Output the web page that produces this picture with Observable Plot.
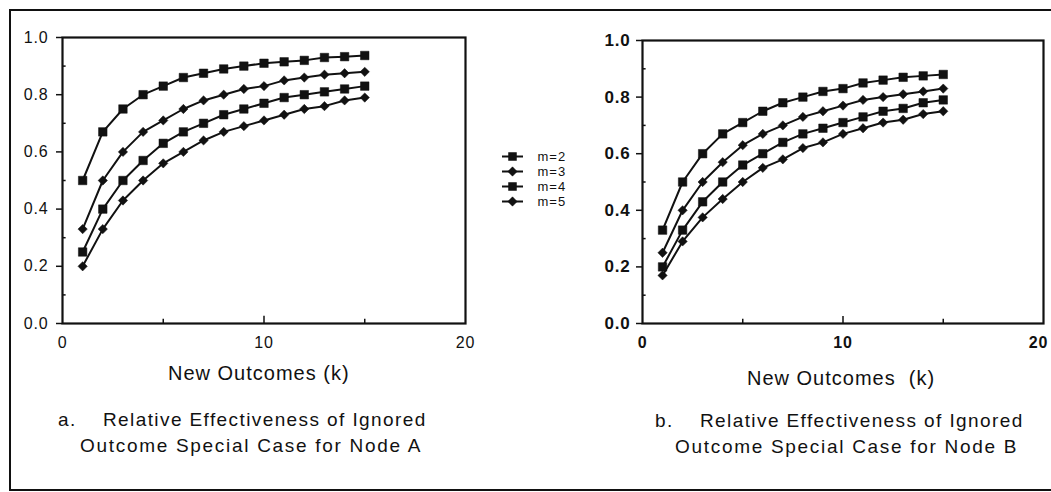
<!DOCTYPE html>
<html><head><meta charset="utf-8">
<script src="https://cdn.jsdelivr.net/npm/d3@7"></script>
<script src="https://cdn.jsdelivr.net/npm/@observablehq/plot@0.6"></script>
<style>
html,body{margin:0;padding:0;background:#fff}
body{width:1051px;height:492px;overflow:hidden;position:relative;font-family:"Liberation Sans",Arial,sans-serif;color:#111}
.abs{position:absolute}
.border{position:absolute;left:9px;top:9px;width:1200px;height:478px;border-left:2px solid #111;border-top:2px solid #111;border-bottom:2px solid #111}
.txt{position:absolute;white-space:pre;line-height:1;color:#111}
.axl{font-size:20px;letter-spacing:1px}
.cap{font-size:19px;letter-spacing:1.4px}
.cap2{letter-spacing:1.7px}
</style></head><body>
<div class="border"></div>
<div id="pa" class="abs" style="left:0;top:0"></div>
<div id="pb" class="abs" style="left:560px;top:0"></div>
<div id="lg" class="abs" style="left:490px;top:130px"></div>
<div class="txt axl" style="left:168px;top:363px">New Outcomes (k)</div>
<div class="txt axl" style="left:747px;top:368px">New Outcomes  (k)</div>
<div class="txt cap" style="left:58px;top:410px">a.</div>
<div class="txt cap" style="left:103px;top:410px">Relative Effectiveness of Ignored</div>
<div class="txt cap cap2" style="left:80px;top:436px">Outcome Special Case for Node A</div>
<div class="txt cap" style="left:655px;top:411px">b.</div>
<div class="txt cap" style="left:700px;top:411px">Relative Effectiveness of Ignored</div>
<div class="txt cap cap2" style="left:675px;top:437px">Outcome Special Case for Node B</div>
<script>
// Data
const series = ["m=2", "m=3", "m=4", "m=5"];
const kValues = [1, 2, 3, 4, 5, 6, 7, 8, 9, 10, 11, 12, 13, 14, 15];
const xTicks = [0, 10];
const xEndTicks = [20];
const yTicks = [0, 0.2, 0.4, 0.6, 0.8, 1.0];
const yMinorTicks = [0.1, 0.3, 0.5, 0.7, 0.9];
const xMinorTicks = [5, 10, 15];

// Panel a: Node A
const a_m2 = [0.50, 0.67, 0.75, 0.80, 0.83, 0.86, 0.875, 0.89, 0.90, 0.91, 0.915, 0.92, 0.93, 0.933, 0.937];
const a_m3 = [0.33, 0.50, 0.60, 0.67, 0.71, 0.75, 0.78, 0.80, 0.82, 0.83, 0.85, 0.86, 0.87, 0.875, 0.88];
const a_m4 = [0.25, 0.40, 0.50, 0.57, 0.63, 0.67, 0.70, 0.73, 0.75, 0.77, 0.79, 0.80, 0.81, 0.82, 0.83];
const a_m5 = [0.20, 0.33, 0.43, 0.50, 0.56, 0.60, 0.64, 0.67, 0.69, 0.71, 0.73, 0.75, 0.76, 0.78, 0.79];

// Panel b: Node B
const b_m2 = [0.33, 0.50, 0.60, 0.67, 0.71, 0.75, 0.78, 0.80, 0.82, 0.83, 0.85, 0.86, 0.87, 0.875, 0.88];
const b_m3 = [0.25, 0.40, 0.50, 0.57, 0.63, 0.67, 0.70, 0.73, 0.75, 0.77, 0.79, 0.80, 0.81, 0.82, 0.83];
const b_m4 = [0.20, 0.33, 0.43, 0.50, 0.56, 0.60, 0.64, 0.67, 0.69, 0.71, 0.73, 0.75, 0.76, 0.78, 0.79];
const b_m5 = [0.17, 0.29, 0.375, 0.44, 0.50, 0.55, 0.58, 0.62, 0.64, 0.67, 0.69, 0.71, 0.72, 0.74, 0.75];

const squareSeries = ["m=2", "m=4"];

function rowsFrom(arrs) {
  const out = [];
  arrs.forEach((arr, i) => arr.forEach((v, j) => out.push({k: kValues[j], v, m: series[i]})));
  return out;
}

const ink = "#111";
function panel(rows, o) {
  return Plot.plot({
    width: o.width, height: 390,
    marginLeft: o.ml, marginRight: o.mr, marginTop: o.mt, marginBottom: 67,
    x: {domain: [0, 20]},
    y: {domain: [0, 1]},
    style: {fontFamily: "Liberation Sans, Arial, sans-serif", fontSize: "16px", color: ink, background: "transparent", overflow: "visible", letterSpacing: "0.8px"},
    marks: [
      Plot.axisY({ticks: yTicks, tickSize: 6, tickPadding: o.ypad, tickFormat: d3.format(".1f"), label: null, fontSize: o.yfs, fontWeight: o.yfw, strokeWidth: 1.5}),
      Plot.ruleY(yMinorTicks, {y: d => d, x1: 0, x2: 0.18, stroke: ink, strokeWidth: 1.5}),
      Plot.axisX({ticks: xTicks, tickSize: 0, tickPadding: 13, label: null, fontSize: 16, fontWeight: o.yfw}),
      Plot.axisX({ticks: xEndTicks, tickSize: 0, tickPadding: 13, label: null, fontSize: 16, fontWeight: o.yfw, dx: o.endDx}),
      Plot.ruleX(xMinorTicks, {x: d => d, y1: 0, y2: d => d === 10 ? 0.025 : 0.015, stroke: ink, strokeWidth: 1.5}),
      Plot.frame({stroke: ink, strokeWidth: 2.2}),
      Plot.line(rows, {x: "k", y: "v", z: "m", stroke: ink, strokeWidth: 2}),
      Plot.dot(rows.filter(d => squareSeries.includes(d.m)), {x: "k", y: "v", symbol: "square", r: 4.8, fill: ink, stroke: ink, strokeWidth: 0.5}),
      Plot.dot(rows.filter(d => !squareSeries.includes(d.m)), {x: "k", y: "v", symbol: "diamond2", r: 4.2, fill: ink, stroke: ink, strokeWidth: 0.5})
    ]
  });
}

document.getElementById("pa").append(panel(rowsFrom([a_m2, a_m3, a_m4, a_m5]), {width: 500, ml: 62, mr: 35, mt: 37, ypad: 8, yfs: 16, yfw: "normal", endDx: 0}));
document.getElementById("pb").append(panel(rowsFrom([b_m2, b_m3, b_m4, b_m5]), {width: 491, ml: 82, mr: 8, mt: 40, ypad: 6, yfs: 17, yfw: "bold", endDx: -5}));

// Legend
const legend = Plot.plot({
  width: 90, height: 95, margin: 0,
  x: {domain: [0, 90], range: [0, 90]},
  y: {type: "point", domain: series, range: [17, 79]},
  axis: null,
  style: {fontFamily: "Liberation Sans, Arial, sans-serif", fontSize: "13px", color: ink, background: "transparent", letterSpacing: "1px"},
  marks: [
    Plot.ruleY(series, {y: d => d, x1: 12, x2: 33, stroke: ink, strokeWidth: 2}),
    Plot.dot(series.filter(d => squareSeries.includes(d)), {x: 22, y: d => d, symbol: "square", r: 4.8, fill: ink}),
    Plot.dot(series.filter(d => !squareSeries.includes(d)), {x: 22, y: d => d, symbol: "diamond2", r: 4.2, fill: ink, stroke: ink, strokeWidth: 0.5}),
    Plot.text(series, {x: 47, y: d => d, text: d => d, textAnchor: "start", fontSize: 13, fill: ink})
  ]
});
document.getElementById("lg").append(legend);
</script>
</body></html>
